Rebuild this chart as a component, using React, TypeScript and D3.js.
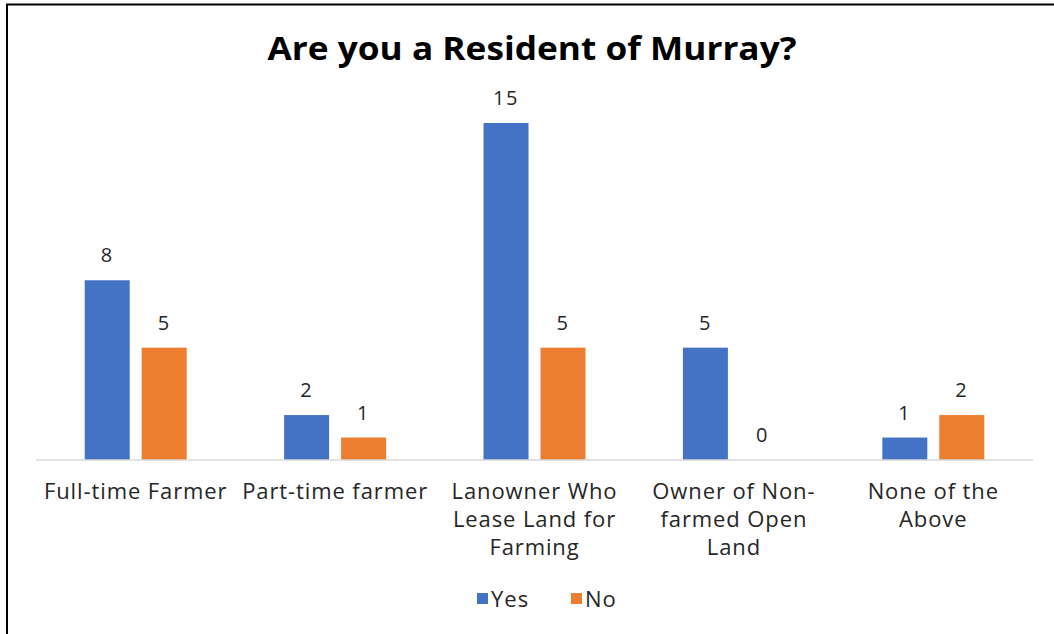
import React from 'react';
import * as d3 from 'd3';

const categories = [
  ['Full-time Farmer'],
  ['Part-time farmer'],
  ['Lanowner Who', 'Lease Land for', 'Farming'],
  ['Owner of Non-', 'farmed Open', 'Land'],
  ['None of the', 'Above'],
];
const yesValues = [8, 2, 15, 5, 1];
const noValues = [5, 1, 5, 0, 2];
const seriesNames = ['Yes', 'No'];
const seriesColors = ['#4472C4', '#ED7D31'];

const W = 1054;
const H = 634;
const FONT = '"Open Sans", Lato, sans-serif';

export default function App() {
  const plot = { left: 36, right: 1033, top: 123, bottom: 460 };

  const x0 = d3.scaleBand<number>()
    .domain(d3.range(categories.length))
    .range([plot.left, plot.right]);
  const pair = 102;
  const x1 = d3.scaleBand<number>()
    .domain([0, 1])
    .range([(x0.bandwidth() - pair) / 2, (x0.bandwidth() + pair) / 2])
    .paddingInner(0.21);
  const y = d3.scaleLinear().domain([0, 15]).range([plot.bottom, plot.top]);

  const series = [yesValues, noValues];

  return (
    <svg width={W} height={H} style={{ position: 'absolute', left: 0, top: 0, background: '#fff' }}>
      {/* frame: left and top edges only */}
      <path d={`M7,${H} L7,4.5 L${W},4.5`} fill="none" stroke="#000" strokeWidth={2} />

      <text x={532} y={60} textAnchor="middle" fontFamily={FONT} fontWeight={700}
        fontSize={32} fill="#000" textLength={529} lengthAdjust="spacingAndGlyphs">
        Are you a Resident of Murray?
      </text>

      {series.map((vals, s) => (
        <g key={s}>
          {vals.map((v, i) => {
            const bx = x0(i)! + x1(s)!;
            return (
              <g key={i}>
                <rect x={bx} y={y(v)} width={x1.bandwidth()} height={plot.bottom - y(v)}
                  fill={seriesColors[s]} />
                <text x={bx + x1.bandwidth() / 2} y={y(v) - 18} textAnchor="middle"
                  fontFamily={FONT} fontSize={20} letterSpacing={1.5} fill="#262626">
                  {v}
                </text>
              </g>
            );
          })}
        </g>
      ))}

      <line x1={plot.left} x2={plot.right} y1={plot.bottom} y2={plot.bottom}
        stroke="#d9d9d9" strokeWidth={1.5} />

      {categories.map((lines, i) => (
        <text key={i} textAnchor="middle" fontFamily={FONT} fontSize={22} letterSpacing={0.9}
          fill="#262626">
          {lines.map((ln, j) => (
            <tspan key={j} x={x0(i)! + x0.bandwidth() / 2} y={499 + j * 28}>{ln}</tspan>
          ))}
        </text>
      ))}

      {seriesNames.map((name, s) => {
        const lx = s === 0 ? 477 : 571;
        return (
          <g key={name}>
            <rect x={lx} y={593} width={11} height={11} fill={seriesColors[s]} />
            <text x={lx + 14} y={607} fontFamily={FONT} fontSize={22} letterSpacing={1}
              fill="#262626">{name}</text>
          </g>
        );
      })}
    </svg>
  );
}
